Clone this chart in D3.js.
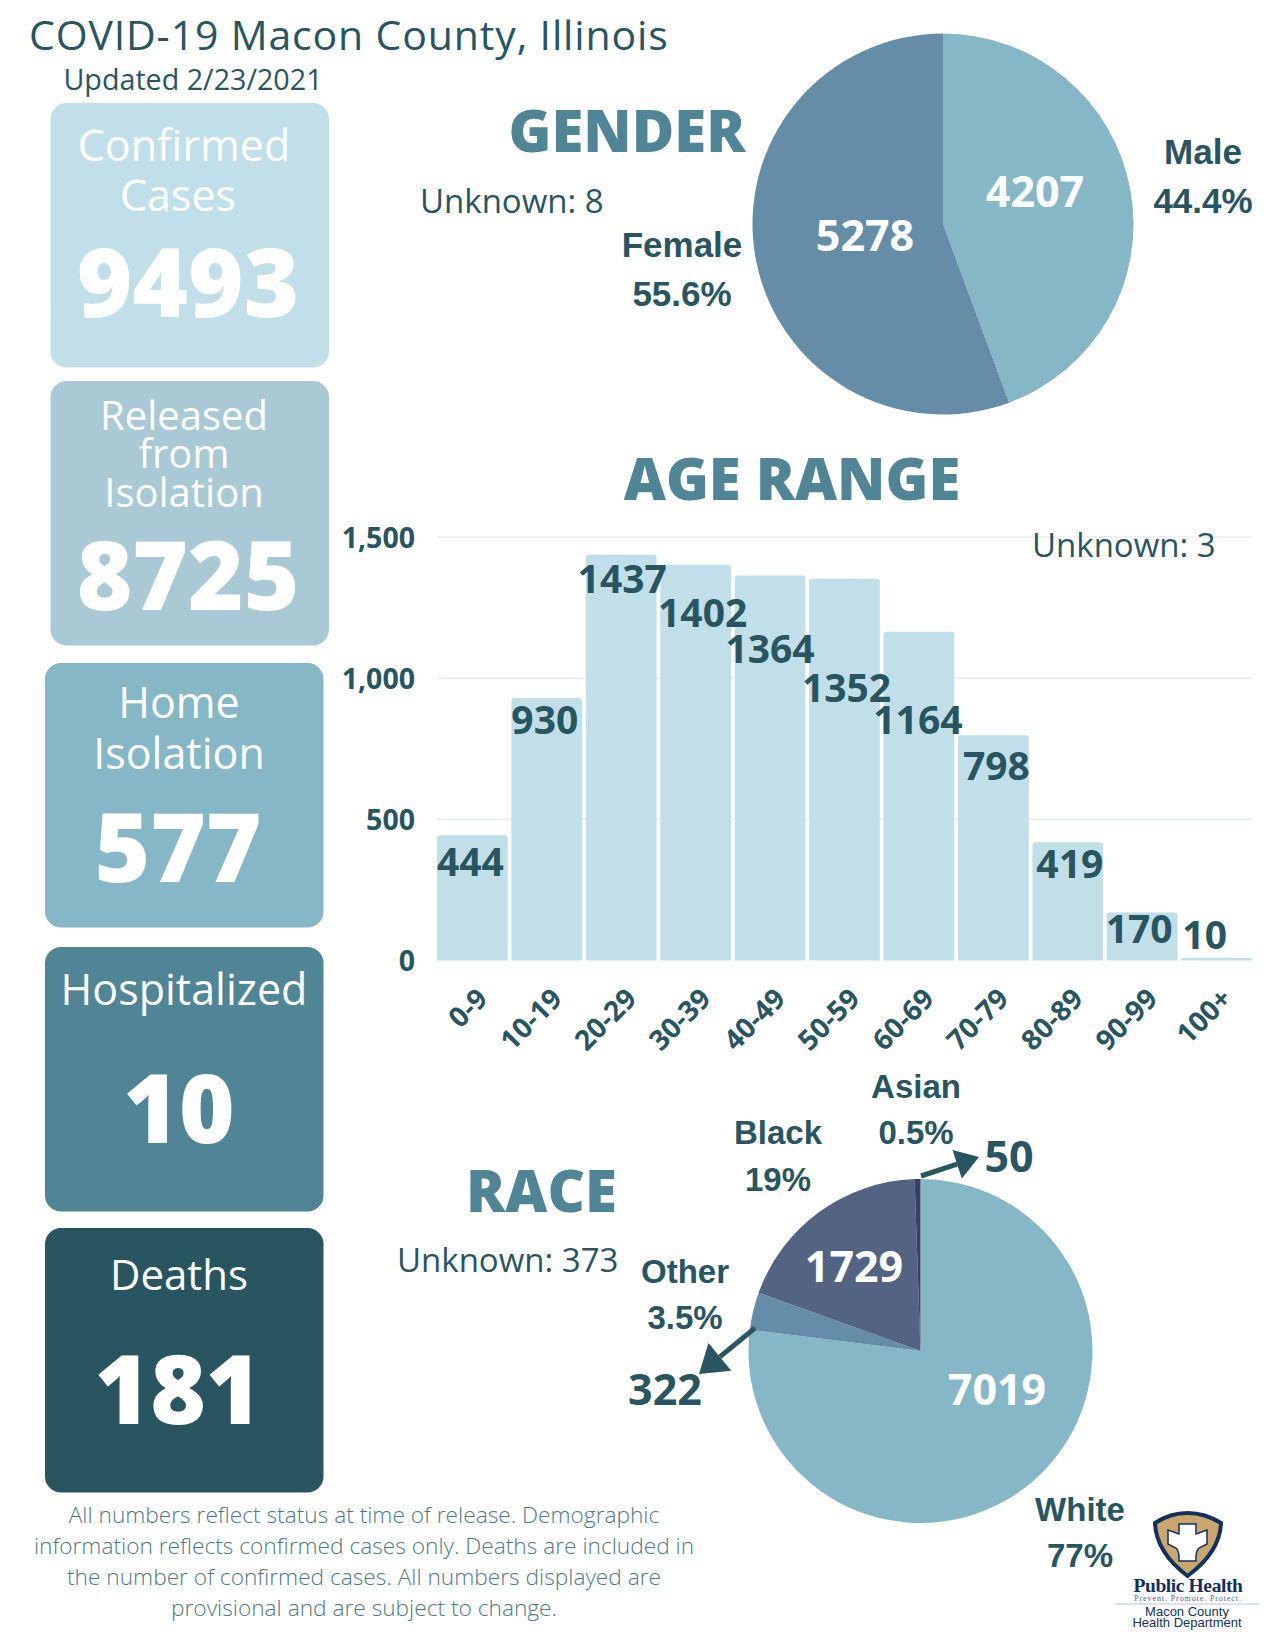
<!DOCTYPE html>
<html lang="en">
<head>
<meta charset="UTF-8">
<title>COVID-19 Macon County, Illinois</title>
<script src="https://d3js.org/d3.v7.min.js"></script>
<style>
  body { margin: 0; background: #fff; }
  svg { display: block; }
  text { font-family: "Open Sans", sans-serif; }
  .arial { font-family: "Liberation Sans", sans-serif; font-weight: 700; }
</style>
</head>
<body>
<div id="chart"></div>
<script>
// data
const cardTitles = [["Confirmed", "Cases"], ["Released", "from", "Isolation"], ["Home", "Isolation"], ["Hospitalized"], ["Deaths"]];
const cardValues = [9493, 8725, 577, 10, 181];

const genderNames = ["Male", "Female"];
const genderCounts = [4207, 5278];
const genderPct = ["44.4%", "55.6%"];

const ageGroups = ["0-9", "10-19", "20-29", "30-39", "40-49", "50-59", "60-69", "70-79", "80-89", "90-99", "100+"];
const ageCounts = [444, 930, 1437, 1402, 1364, 1352, 1164, 798, 419, 170, 10];
const ageTicks = [0, 500, 1000, 1500];

const raceNames = ["White", "Other", "Black", "Asian"];
const raceCounts = [7019, 322, 1729, 50];
const racePct = ["77%", "3.5%", "19%", "0.5%"];

const footnote = [
  "All numbers reflect status at time of release. Demographic",
  "information reflects confirmed cases only. Deaths are included in",
  "the number of confirmed cases. All numbers displayed are",
  "provisional and are subject to change."
];

const DARK = "#285560", TEAL = "#508595", MID = "#85b7c6", LIGHT = "#c1dfe8";

const svg = d3.select("#chart").append("svg").attr("width", 1265).attr("height", 1638);

function txt(s, x, y, size, opt) {
  opt = opt || {};
  return svg.append("text").attr("x", x).attr("y", y).text(s)
    .attr("class", opt.cls || null)
    .attr("text-anchor", opt.anchor || "middle")
    .attr("fill", opt.fill || DARK)
    .style("font-size", size + "px")
    .style("font-weight", opt.weight || null)
    .style("letter-spacing", opt.ls ? opt.ls + "px" : null);
}

// header
txt("COVID-19 Macon County, Illinois", 29, 50, 41, { anchor: "start", ls: 0.85 });
txt("Updated 2/23/2021", 193, 90, 28.7);

// left column cards
const cardBox = [
  { x: 50.5, y: 103, fill: LIGHT, size: 43, cx: [184, 178], lines: [160.5, 211], num: 317, ncx: 188 },
  { x: 50.5, y: 381, fill: "#a9c9d4", size: 40, cx: [184, 184, 184], lines: [430, 468, 507], num: 610, ncx: 188 },
  { x: 45, y: 663, fill: MID, size: 43, cx: [179, 179], lines: [718, 769], num: 882, ncx: 178 },
  { x: 45, y: 947, fill: TEAL, size: 43, cx: [184], lines: [1005], num: 1143, ncx: 179 },
  { x: 45, y: 1228, fill: DARK, size: 42, cx: [179], lines: [1290], num: 1424, ncx: 178 }
];
cardBox.forEach((b, i) => {
  svg.append("rect").attr("x", b.x).attr("y", b.y).attr("width", 278.5).attr("height", 264.5)
    .attr("rx", 16).attr("fill", b.fill);
  cardTitles[i].forEach((t, j) => txt(t, b.cx[j], b.lines[j], b.size, { fill: "#fff" }));
  txt(cardValues[i], b.ncx, b.num, 95, { fill: "#fff", weight: 800 });
});

// gender pie
const pie = d3.pie().sort(null);
const genderColor = d3.scaleOrdinal().domain(genderNames).range([MID, "#668da7"]);
const genderArc = d3.arc().innerRadius(0).outerRadius(190.5);
svg.append("g").attr("transform", "translate(943,224)")
  .selectAll("path").data(pie(genderCounts)).join("path")
  .attr("d", genderArc).attr("fill", (d, i) => genderColor(genderNames[i]));

txt("GENDER", 627, 152, 58, { fill: TEAL, weight: 800 });
txt("Unknown: 8", 420, 213, 33, { anchor: "start" });
txt(genderNames[0], 1203, 164, 35, { cls: "arial" });
txt(genderPct[0], 1203, 213, 35, { cls: "arial" });
txt(genderNames[1], 682, 257, 35, { cls: "arial" });
txt(genderPct[1], 682, 306, 35, { cls: "arial" });
txt(genderCounts[0], 1035, 207, 43, { fill: "#fff", weight: 700 });
txt(genderCounts[1], 865, 251, 43, { fill: "#fff", weight: 700 });

// age range bars
txt("AGE RANGE", 792, 500, 58, { fill: TEAL, weight: 800 });

const x = d3.scaleBand().domain(ageGroups).range([437, 1252]).paddingInner(0.05).paddingOuter(0);
const y = d3.scaleLinear().domain([0, 1500]).range([960.5, 537]);

svg.append("g").selectAll("line").data(ageTicks.slice(1)).join("line")
  .attr("x1", 437).attr("x2", 1252).attr("y1", d => y(d)).attr("y2", d => y(d))
  .attr("stroke", "#e8eef0").attr("stroke-width", 1.5);

const rt = 3;
svg.append("g").selectAll("path").data(ageCounts).join("path")
  .attr("fill", LIGHT)
  .attr("d", (d, i) => {
    const l = x(ageGroups[i]), w = x.bandwidth(), t = y(d), b = y(0);
    const r = Math.min(rt, b - t);
    return `M${l},${b}V${t + r}Q${l},${t} ${l + r},${t}H${l + w - r}Q${l + w},${t} ${l + w},${t + r}V${b}Z`;
  });

const yAxis = d3.axisLeft(y).tickValues(ageTicks).tickFormat(d3.format(",")).tickSize(0).tickPadding(22);
const yG = svg.append("g").attr("transform", "translate(437,1)").call(yAxis);
yG.select(".domain").remove();
yG.selectAll("text").attr("fill", DARK).style("font-size", "28.5px").style("font-weight", 700);

const xAxis = d3.axisBottom(x).tickSize(0);
const xG = svg.append("g").attr("transform", "translate(0,960.5)").call(xAxis);
xG.select(".domain").remove();
xG.selectAll("text").attr("fill", DARK).style("font-size", "28px").style("font-weight", 700)
  .attr("text-anchor", "end").attr("dy", 0).attr("y", 0)
  .attr("transform", "translate(17,40) rotate(-45)");

// the labels were hand placed in the original, so offsets from bar centre / top
const ageLabelDx = [-2, -2, 1, 7, 0, 2, -1, 3, 2, -3, -12];
const ageLabelDy = [27, 22, 24, 48, 74, 109, 88, 31, 22, 17, -23];
svg.append("g").selectAll("text").data(ageCounts).join("text")
  .attr("x", (d, i) => x(ageGroups[i]) + x.bandwidth() / 2 + ageLabelDx[i])
  .attr("y", (d, i) => y(d) + ageLabelDy[i])
  .attr("dy", "0.357em")
  .attr("text-anchor", "middle").attr("fill", DARK)
  .style("font-size", "39px").style("font-weight", 700)
  .text(d => d);

txt("Unknown: 3", 1032, 557, 33, { anchor: "start" });

// race pie
const raceColor = d3.scaleOrdinal().domain(raceNames).range([MID, "#668da7", "#526482", "#3b3f63"]);
const raceArc = d3.arc().innerRadius(0).outerRadius(172);
svg.append("g").attr("transform", "translate(920.5,1351)")
  .selectAll("path").data(pie(raceCounts)).join("path")
  .attr("d", raceArc).attr("fill", (d, i) => raceColor(raceNames[i]));

txt("RACE", 541.5, 1212, 58, { fill: TEAL, weight: 800 });
txt("Unknown: 373", 397, 1272, 33, { anchor: "start" });
txt(raceNames[3], 916, 1098, 33, { cls: "arial" });
txt(racePct[3], 916, 1144, 33, { cls: "arial" });
txt(raceNames[2], 778, 1144, 33, { cls: "arial" });
txt(racePct[2], 778, 1191, 33, { cls: "arial" });
txt(raceNames[1], 685, 1283, 33, { cls: "arial" });
txt(racePct[1], 685, 1329, 33, { cls: "arial" });
txt(raceNames[0], 1080, 1521, 33, { cls: "arial" });
txt(racePct[0], 1080, 1567, 33, { cls: "arial" });
txt(raceCounts[2], 854, 1282, 43, { fill: "#fff", weight: 700 });
txt(raceCounts[0], 997, 1405, 43, { fill: "#fff", weight: 700 });
txt(raceCounts[3], 1009, 1172, 43, { weight: 700 });
txt(raceCounts[1], 665, 1405, 43, { weight: 700 });

function arrow(x1, y1, x2, y2, len, wid) {
  const a = Math.atan2(y2 - y1, x2 - x1);
  const bx = x2 - len * Math.cos(a), by = y2 - len * Math.sin(a);
  const nx = -Math.sin(a) * wid / 2, ny = Math.cos(a) * wid / 2;
  svg.append("line").attr("x1", x1).attr("y1", y1).attr("x2", bx).attr("y2", by)
    .attr("stroke", DARK).attr("stroke-width", 5);
  svg.append("path").attr("fill", DARK)
    .attr("d", `M${x2},${y2}L${bx + nx},${by + ny}L${bx - nx},${by - ny}Z`);
}
arrow(921, 1176, 979, 1157, 23, 30);
arrow(755, 1328, 699, 1374, 27, 36);

// footnote
footnote.forEach((t, i) => txt(t, 364, 1523 + i * 31, 22.7, { weight: 300, fill: "#4f7984" }));

// logo
const NAVY = "#12305f";
const logo = svg.append("g");
logo.append("path")
  .attr("d", "M1155,1523Q1170,1513 1187.5,1513Q1205,1513 1221,1523Q1220,1552 1187.5,1576Q1156,1552 1155,1523Z")
  .attr("fill", "#c9a66b").attr("stroke", NAVY).attr("stroke-width", 4);
logo.append("path")
  .attr("d", "M1179,1524H1196V1534L1207,1530V1544L1199,1548Q1196,1551 1196,1557V1561H1179V1557Q1179,1551 1176,1548L1168,1544V1530L1179,1534Z")
  .attr("fill", "#fff").attr("stroke", NAVY).attr("stroke-width", 1.5);
txt("Public Health", 1188, 1592, 19.5, { fill: NAVY }).style("font-family", "Liberation Serif").style("font-weight", 700).style("letter-spacing", "-0.4px");
txt("Prevent. Promote. Protect.", 1188, 1601, 8, { fill: "#47618a", ls: 0.9 }).style("font-family", "Liberation Serif");
logo.append("line").attr("x1", 1115).attr("x2", 1260).attr("y1", 1604).attr("y2", 1604).attr("stroke", "#b9c6d8").attr("stroke-width", 1);
txt("Macon County", 1187, 1616, 13, { fill: NAVY }).style("font-family", "Liberation Sans");
txt("Health Department", 1187, 1627, 13, { fill: NAVY }).style("font-family", "Liberation Sans");
</script>
</body>
</html>
